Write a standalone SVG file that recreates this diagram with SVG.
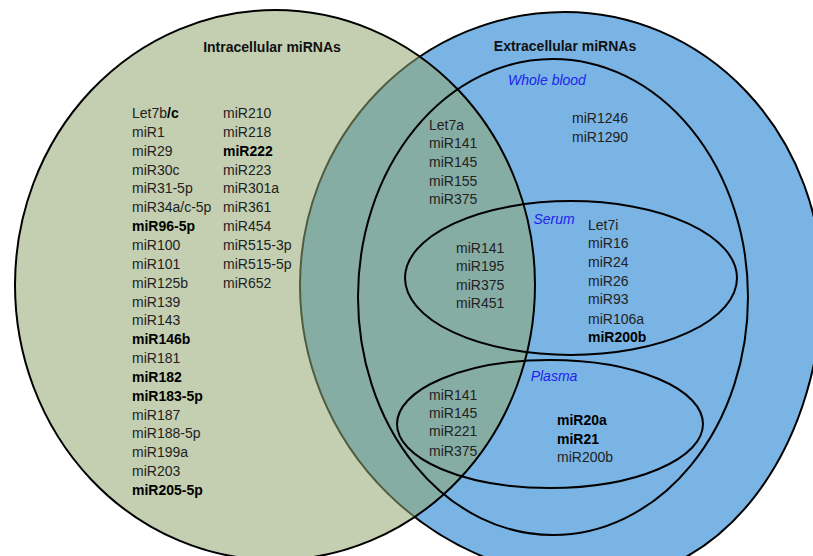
<svg xmlns="http://www.w3.org/2000/svg" width="813" height="556" viewBox="0 0 813 556">
<style>
.t{font-family:"Liberation Sans",Arial,sans-serif;font-size:14px;fill:#222}
.b{font-weight:bold;fill:#000}
.h{font-family:"Liberation Sans",Arial,sans-serif;font-size:14px;font-weight:bold;fill:#111;text-anchor:middle}
.l{font-family:"Liberation Sans",Arial,sans-serif;font-size:14px;font-style:italic;fill:#2222ee;text-anchor:middle}
.ring{fill:none;stroke:#000;stroke-width:2}
</style>
<rect width="813" height="556" fill="#fff"/>
<g id="extracellular">
<path d="M300,285 A265,273 0 0 1 565,12 A257,273 0 0 1 822,285 A222,295 0 0 1 600,580 A300,295 0 0 1 300,285 Z" fill="#79b4e4" stroke="#000" stroke-width="2"/>
</g>
<g id="intracellular">
<ellipse cx="275" cy="285" rx="260" ry="275" fill="#92a86f" fill-opacity="0.55" stroke="#000" stroke-width="2"/>
</g>
<g id="whole-blood"><ellipse class="ring" cx="553" cy="297" rx="195" ry="238"/></g>
<g id="serum"><ellipse class="ring" cx="571" cy="278" rx="166" ry="77"/></g>
<g id="plasma"><ellipse class="ring" cx="550" cy="424" rx="153" ry="64"/></g>
<g id="connectors"/>
<g id="labels">
<text class="h" x="272" y="52">Intracellular miRNAs</text>
<text class="h" x="565" y="51">Extracellular miRNAs</text>
<text class="l" x="547" y="85">Whole blood</text>
<text class="l" x="554" y="224">Serum</text>
<text class="l" x="554" y="381">Plasma</text>
</g>
<g id="intracellular-list" class="t">
<text x="132" y="118">Let7b<tspan class="b">/c</tspan></text>
<text x="132" y="137">miR1</text>
<text x="132" y="156">miR29</text>
<text x="132" y="175">miR30c</text>
<text x="132" y="193">miR31-5p</text>
<text x="132" y="212">miR34a/c-5p</text>
<text x="132" y="231" class="t b">miR96-5p</text>
<text x="132" y="250">miR100</text>
<text x="132" y="269">miR101</text>
<text x="132" y="288">miR125b</text>
<text x="132" y="307">miR139</text>
<text x="132" y="325">miR143</text>
<text x="132" y="344" class="t b">miR146b</text>
<text x="132" y="363">miR181</text>
<text x="132" y="382" class="t b">miR182</text>
<text x="132" y="401" class="t b">miR183-5p</text>
<text x="132" y="420">miR187</text>
<text x="132" y="438">miR188-5p</text>
<text x="132" y="457">miR199a</text>
<text x="132" y="476">miR203</text>
<text x="132" y="495" class="t b">miR205-5p</text>
<text x="223" y="118">miR210</text>
<text x="223" y="137">miR218</text>
<text x="223" y="156" class="t b">miR222</text>
<text x="223" y="175">miR223</text>
<text x="223" y="193">miR301a</text>
<text x="223" y="212">miR361</text>
<text x="223" y="231">miR454</text>
<text x="223" y="250">miR515-3p</text>
<text x="223" y="269">miR515-5p</text>
<text x="223" y="288">miR652</text>
</g>
<g id="whole-blood-list" class="t">
<text x="429" y="130">Let7a</text>
<text x="429" y="148">miR141</text>
<text x="429" y="167">miR145</text>
<text x="429" y="186">miR155</text>
<text x="429" y="204">miR375</text>
<text x="572" y="123">miR1246</text>
<text x="572" y="142">miR1290</text>
</g>
<g id="serum-list" class="t">
<text x="456" y="253">miR141</text>
<text x="456" y="271">miR195</text>
<text x="456" y="290">miR375</text>
<text x="456" y="308">miR451</text>
<text x="588" y="230">Let7i</text>
<text x="588" y="248">miR16</text>
<text x="588" y="267">miR24</text>
<text x="588" y="286">miR26</text>
<text x="588" y="304">miR93</text>
<text x="588" y="324">miR106a</text>
<text x="588" y="342" class="t b">miR200b</text>
</g>
<g id="plasma-list" class="t">
<text x="429" y="400">miR141</text>
<text x="429" y="418">miR145</text>
<text x="429" y="436">miR221</text>
<text x="429" y="456">miR375</text>
<text x="557" y="425" class="t b">miR20a</text>
<text x="557" y="444" class="t b">miR21</text>
<text x="557" y="462">miR200b</text>
</g>
</svg>
